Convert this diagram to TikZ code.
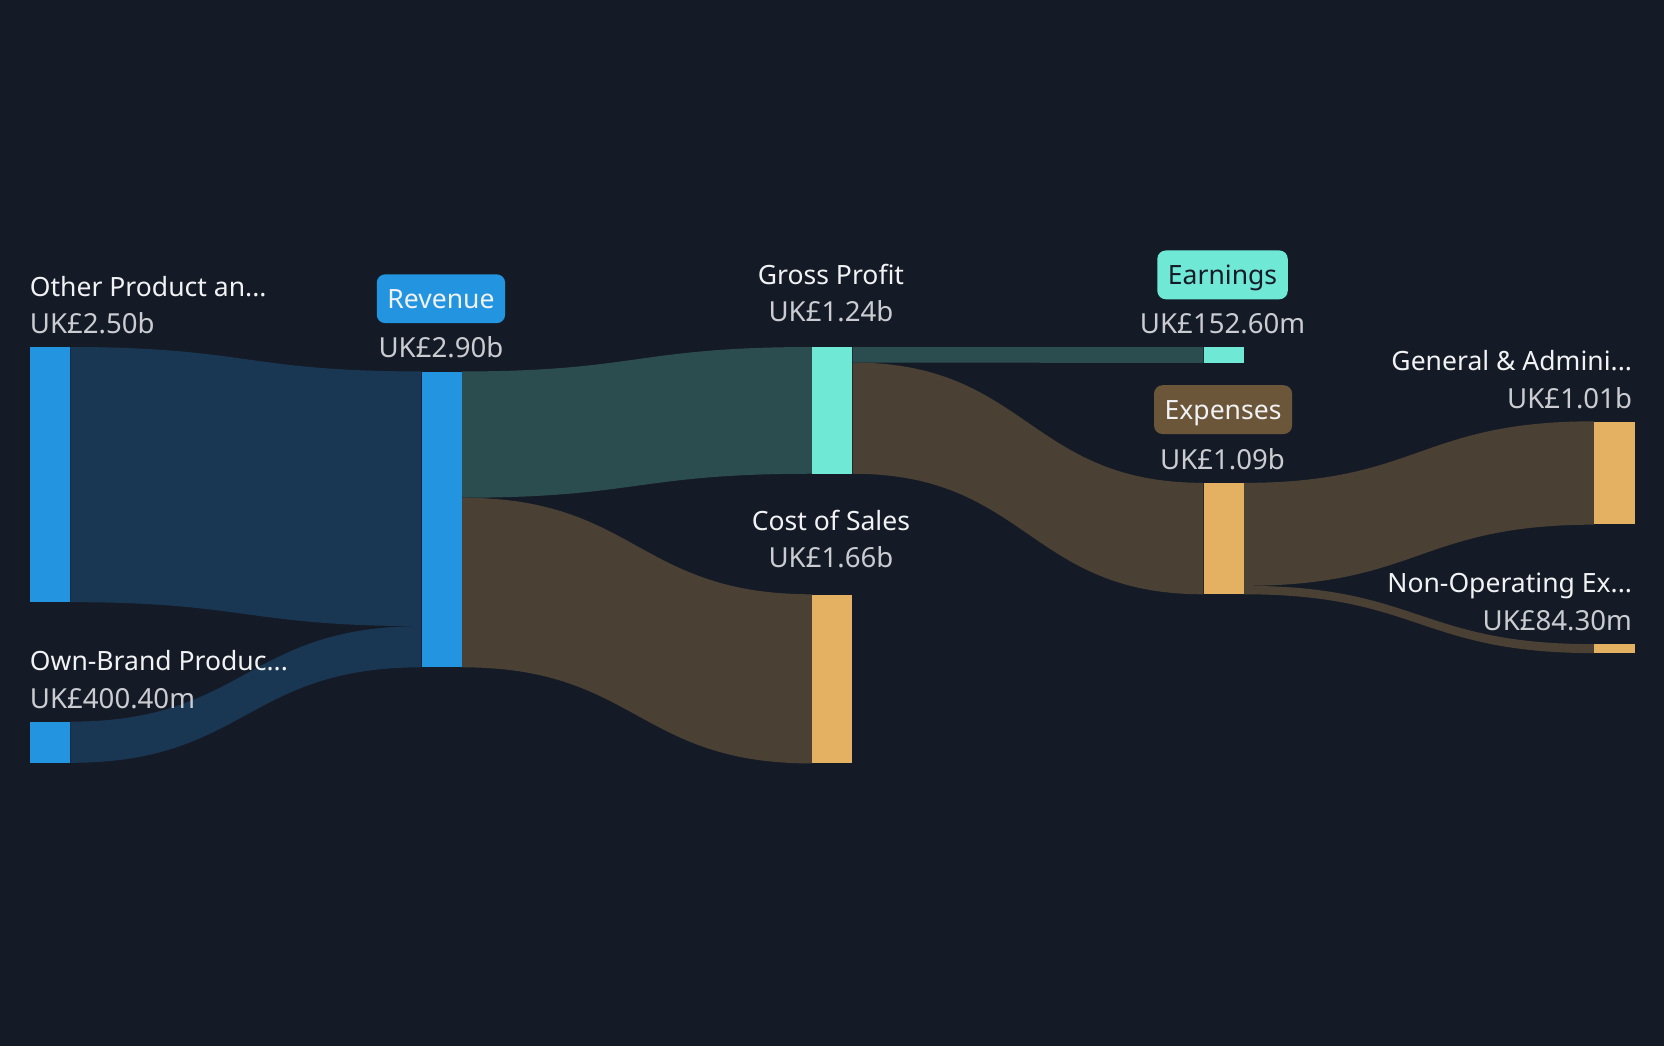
\documentclass[tikz,border=0pt]{standalone}
\usepackage{fontspec}
\setmainfont{Noto Sans}
\usetikzlibrary{calc,positioning}

\definecolor{bg}{HTML}{151B26}
\definecolor{blu}{HTML}{2394DF}
\definecolor{bluflow}{HTML}{193753}
\definecolor{teal}{HTML}{6FE8D5}
\definecolor{tealflow}{HTML}{2C4D50}
\definecolor{ochre}{HTML}{E4B062}
\definecolor{brownflow}{HTML}{4A4034}
\definecolor{brownbox}{HTML}{6B5639}
\definecolor{labtxt}{HTML}{F1F2F4}
\definecolor{valtxt}{HTML}{CACCD1}

\tikzset{
  bar/.style={rectangle, inner sep=0, minimum width=38, anchor=north west},
  lab/.style={text=labtxt, inner sep=0, font=\fontsize{25}{29}\selectfont},
  val/.style={text=valtxt, inner sep=0, font=\fontsize{26}{30}\selectfont},
  tag/.style={rounded corners=8, inner xsep=10, inner ysep=0, text height=18, text depth=0,
    minimum height=46, font=\fontsize{25}{29}\selectfont}
}

% band between two bars: #1,#2 top/bottom at source, #3,#4 top/bottom at target
\newcommand\flowband[5]{%
  \path ($(#1)!.5!(#3)$) coordinate (mid);
  \fill[#5] (#1) .. controls (mid |- #1) and (mid |- #3) .. (#3)
    -- (#4) .. controls (mid |- #4) and (mid |- #2) .. (#2) -- cycle;}

\begin{document}
\begin{tikzpicture}[x=1pt,y=-1pt]
	\fill[bg] (0,0) rectangle (1568,986);
	\useasboundingbox (0,0) rectangle (1568,986);
	% bars
	\node[bar,fill=blu,minimum height=240] (oth) at (28,327) {};
	\node[bar,fill=blu,minimum height=38.4] (own) at (28,680) {};
	\node[bar,fill=blu,minimum height=278.4] (rev) at (397,350) {};
	\node[bar,fill=teal,minimum height=119] (gp) at (765,327) {};
	\node[bar,fill=ochre,minimum height=159] (cos) at (765,560) {};
	\node[bar,fill=teal,minimum height=14.6] (earn) at (1134,327) {};
	\node[bar,fill=ochre,minimum height=104.6] (exp) at (1134,455) {};
	\node[bar,fill=ochre,minimum height=97] (ga) at (1502,397) {};
	\node[bar,fill=ochre,minimum height=8] (non) at (1502,607) {};
	% split points
	\coordinate (r1) at ($(rev.north west)+(0,240)$);
	\coordinate (r2) at ($(rev.north east)+(0,119)$);
	\coordinate (g1) at ($(gp.north east)+(0,14.6)$);
	\coordinate (e1) at ($(exp.north east)+(0,97)$);
	% flows
	\flowband{oth.north east}{oth.south east}{rev.north west}{r1}{bluflow}
	\flowband{own.north east}{own.south east}{r1}{rev.south west}{bluflow}
	\flowband{rev.north east}{r2}{gp.north west}{gp.south west}{tealflow}
	\flowband{r2}{rev.south east}{cos.north west}{cos.south west}{brownflow}
	\flowband{gp.north east}{g1}{earn.north west}{earn.south west}{tealflow}
	\flowband{g1}{gp.south east}{exp.north west}{exp.south west}{brownflow}
	\flowband{exp.north east}{e1}{ga.north west}{ga.south west}{brownflow}
	\flowband{e1}{exp.south east}{non.north west}{non.south west}{brownflow}
	% labels
	\node[lab,anchor=base west] (othname) at (28,279) {Other Product an...};
	\node[val,anchor=base west] (othval) at (28,314) {UK£2.50b};
	\node[lab,anchor=base west] (ownname) at (28,632) {Own-Brand Produc...};
	\node[val,anchor=base west] (ownval) at (28,668) {UK£400.40m};
	\node[tag,fill=blu,text=labtxt] (revtag) at (415.5,281.5) {Revenue};
	\node[val,anchor=base] (revval) at (415.5,337) {UK£2.90b};
	\node[lab,anchor=base] (gpname) at (783,268) {Gross Profit};
	\node[val,anchor=base] (gpval) at (783,303) {UK£1.24b};
	\node[lab,anchor=base] (cosname) at (783,500) {Cost of Sales};
	\node[val,anchor=base] (cosval) at (783,535) {UK£1.66b};
	\node[tag,fill=teal,text=bg] (earntag) at (1152,259) {Earnings};
	\node[val,anchor=base] (earnval) at (1152,314) {UK£152.60m};
	\node[tag,fill=brownbox,text=labtxt] (exptag) at (1152.5,386) {Expenses};
	\node[val,anchor=base] (expval) at (1152,442) {UK£1.09b};
	\node[lab,anchor=base east] (ganame) at (1538,349) {General \& Admini...};
	\node[val,anchor=base east] (gaval) at (1538,385) {UK£1.01b};
	\node[lab,anchor=base east] (nonname) at (1538,558) {Non-Operating Ex...};
	\node[val,anchor=base east] (nonval) at (1538,594) {UK£84.30m};
\end{tikzpicture}
\end{document}
